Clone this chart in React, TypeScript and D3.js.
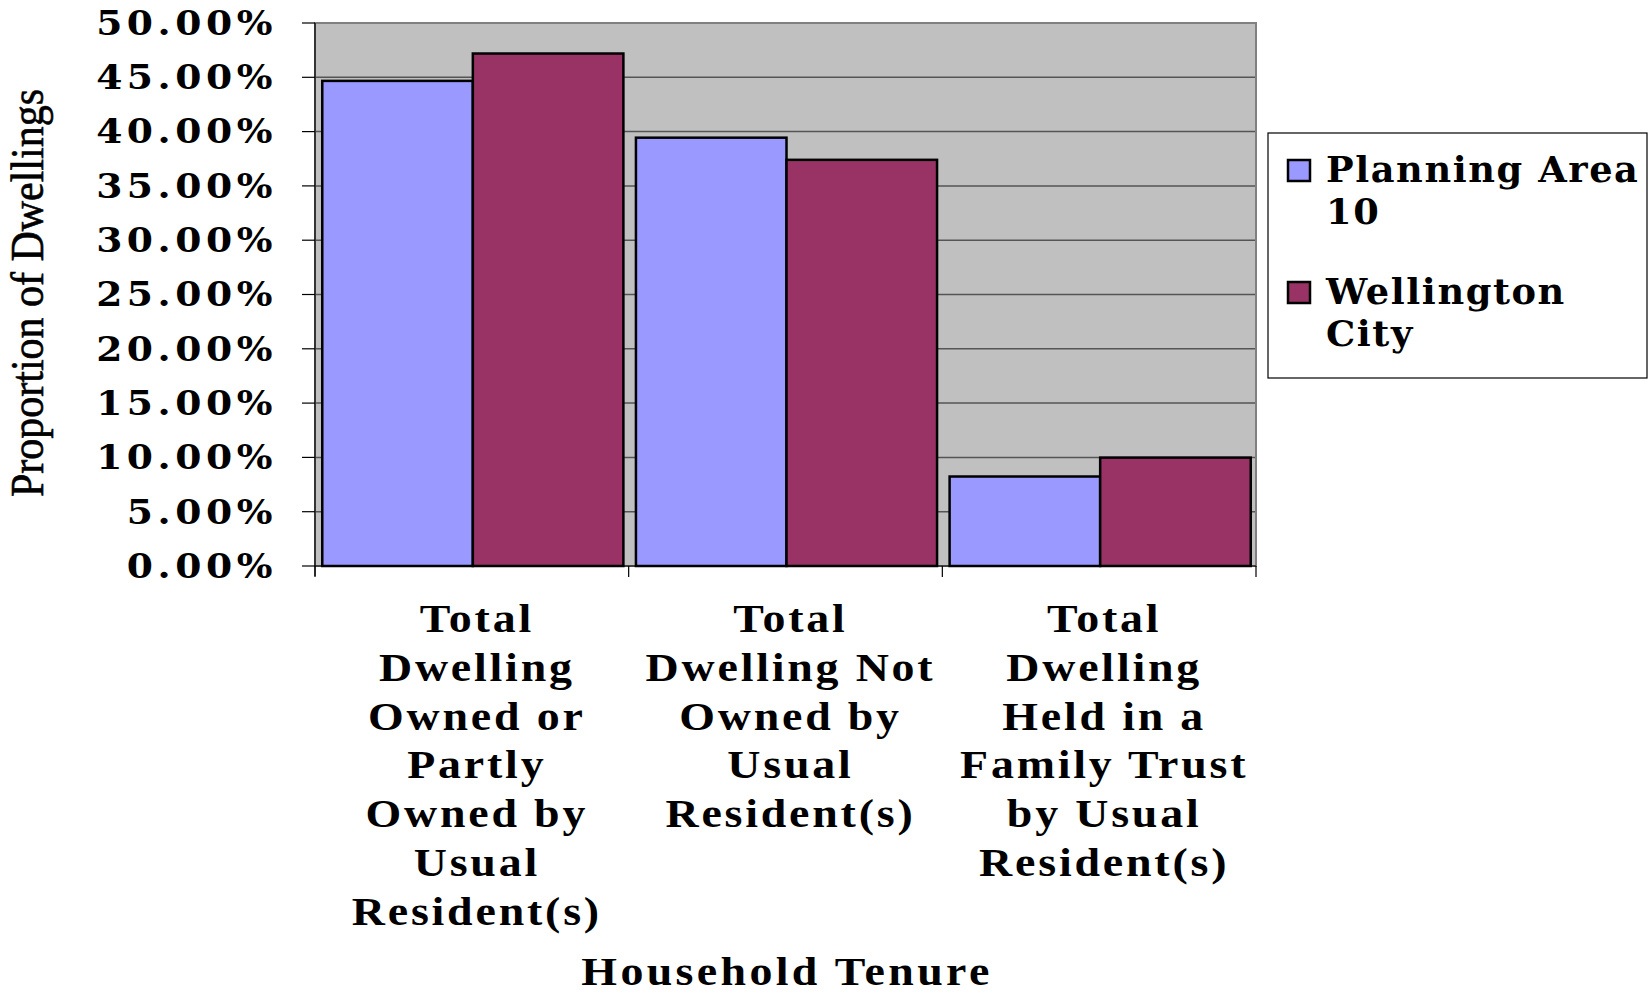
import React from "react";
import * as d3 from "d3";

const categories = [
  "Total Dwelling Owned or Partly Owned by Usual Resident(s)",
  "Total Dwelling Not Owned by Usual Resident(s)",
  "Total Dwelling Held in a Family Trust by Usual Resident(s)",
];
const categoryLines = [
  ["Total", "Dwelling", "Owned or", "Partly", "Owned by", "Usual", "Resident(s)"],
  ["Total", "Dwelling Not", "Owned by", "Usual", "Resident(s)"],
  ["Total", "Dwelling", "Held in a", "Family Trust", "by Usual", "Resident(s)"],
];
const seriesNames = ["Planning Area 10", "Wellington City"];
const legendLines = [["Planning Area", "10"], ["Wellington", "City"]];
const planningArea10 = [0.4467, 0.3944, 0.0824];
const wellingtonCity = [0.4719, 0.374, 0.0998];
const seriesValues = [planningArea10, wellingtonCity];
const seriesColors = ["#9999FF", "#993366"];
const yTicks = [0, 0.05, 0.1, 0.15, 0.2, 0.25, 0.3, 0.35, 0.4, 0.45, 0.5];
const yTitle = "Proportion of Dwellings";
const xTitle = "Household Tenure";

export default function App() {
  const W = 1651;
  const H = 994;
  const plot = { left: 315, right: 1256, top: 23, bottom: 566 };

  const y = d3.scaleLinear().domain([0, 0.5]).range([plot.bottom, plot.top]);
  const x0 = d3.scaleBand<number>().domain(d3.range(categories.length)).range([plot.left, plot.right]).padding(0);
  const bw = x0.bandwidth();
  const gap = bw * 0.04;
  const x1 = d3.scaleBand<number>().domain(d3.range(seriesNames.length)).range([gap / 2 + 1, bw - gap / 2 + 1]).padding(0);
  const fmt = (v: number) => (v * 100).toFixed(2) + "%";

  const tickFont = "'DejaVu Serif', serif";
  const timesFont = "'Liberation Serif', 'Times New Roman', serif";
  const catSx = 1.12;
  const tickSx = 1.14;

  return (
    <svg width={W} height={H} style={{ position: "absolute", left: 0, top: 0, background: "#fff" }}>
      {/* plot background */}
      <rect x={plot.left} y={plot.top} width={plot.right - plot.left} height={plot.bottom - plot.top} fill="#C0C0C0" />
      {/* gridlines */}
      {yTicks.slice(1).map((t) => (
        <line key={"g" + t} x1={plot.left} x2={plot.right} y1={y(t)} y2={y(t)} stroke="#555" strokeWidth={1.5} />
      ))}
      {/* plot border */}
      <rect x={plot.left} y={plot.top} width={plot.right - plot.left} height={plot.bottom - plot.top} fill="none" stroke="#808080" strokeWidth={2} />
      {/* bars */}
      {categories.map((c, ci) =>
        seriesValues.map((vals, si) => (
          <rect
            key={c + si}
            x={(x0(ci) as number) + (x1(si) as number)}
            y={y(vals[ci])}
            width={x1.bandwidth()}
            height={plot.bottom - y(vals[ci])}
            fill={seriesColors[si]}
            stroke="#000"
            strokeWidth={2.5}
          />
        ))
      )}
      {/* y axis */}
      <line x1={plot.left} x2={plot.left} y1={plot.top} y2={plot.bottom + 10} stroke="#000" strokeWidth={1.2} />
      {yTicks.map((t) => (
        <g key={"t" + t}>
          <line x1={plot.left - 13} x2={plot.left} y1={y(t)} y2={y(t)} stroke="#000" strokeWidth={1.2} />
          <text
            transform={`translate(277, ${y(t)}) scale(${tickSx}, 1)`}
            dy="0.36em"
            textAnchor="end"
            fontFamily={tickFont}
            fontWeight="bold"
            fontSize={33}
            letterSpacing={4}
            fill="#000"
          >
            {fmt(t)}
          </text>
        </g>
      ))}
      {/* x axis */}
      <line x1={plot.left} x2={plot.right} y1={plot.bottom} y2={plot.bottom} stroke="#000" strokeWidth={1.2} />
      {d3.range(categories.length + 1).map((i) => {
        const xx = i < categories.length ? (x0(i) as number) : plot.right;
        return <line key={"xt" + i} x1={xx} x2={xx} y1={plot.bottom} y2={plot.bottom + 11} stroke="#000" strokeWidth={1.2} />;
      })}
      {/* category labels */}
      {categoryLines.map((lines, ci) => (
        <text
          key={"cl" + ci}
          transform={`translate(${(x0(ci) as number) + bw / 2 + 5}, 0) scale(${catSx}, 1)`}
          textAnchor="middle"
          fontFamily={timesFont}
          fontWeight="bold"
          fontSize={41}
          letterSpacing={2.5}
          fill="#000"
        >
          {lines.map((ln, li) => (
            <tspan key={li} x={0} y={632 + li * 48.8}>
              {ln}
            </tspan>
          ))}
        </text>
      ))}
      {/* x title */}
      <text
        transform={`translate(787, 985) scale(${catSx}, 1)`}
        textAnchor="middle"
        fontFamily={timesFont}
        fontWeight="bold"
        fontSize={41}
        letterSpacing={3}
        fill="#000"
      >
        {xTitle}
      </text>
      {/* y title */}
      <text
        transform={`translate(43, 293) rotate(-90)`}
        textAnchor="middle"
        fontFamily={timesFont}
        fontSize={46}
        textLength={408}
        lengthAdjust="spacingAndGlyphs"
        stroke="#000"
        strokeWidth={0.6}
        fill="#000"
      >
        {yTitle}
      </text>
      {/* legend */}
      <rect x={1268} y={133} width={379} height={245} fill="#fff" stroke="#000" strokeWidth={1.2} />
      {seriesNames.map((s, si) => (
        <g key={"lg" + s}>
          <rect x={1288} y={160 + si * 122} width={22} height={21} fill={seriesColors[si]} stroke="#000" strokeWidth={2.5} />
          <text
            transform={`translate(1326, 0) scale(1.05, 1)`}
            fontFamily={tickFont}
            fontWeight="bold"
            fontSize={35}
            letterSpacing={1.5}
            fill="#000"
          >
            {legendLines[si].map((ln, li) => (
              <tspan key={li} x={0} y={182 + si * 122 + li * 42}>
                {ln}
              </tspan>
            ))}
          </text>
        </g>
      ))}
    </svg>
  );
}
